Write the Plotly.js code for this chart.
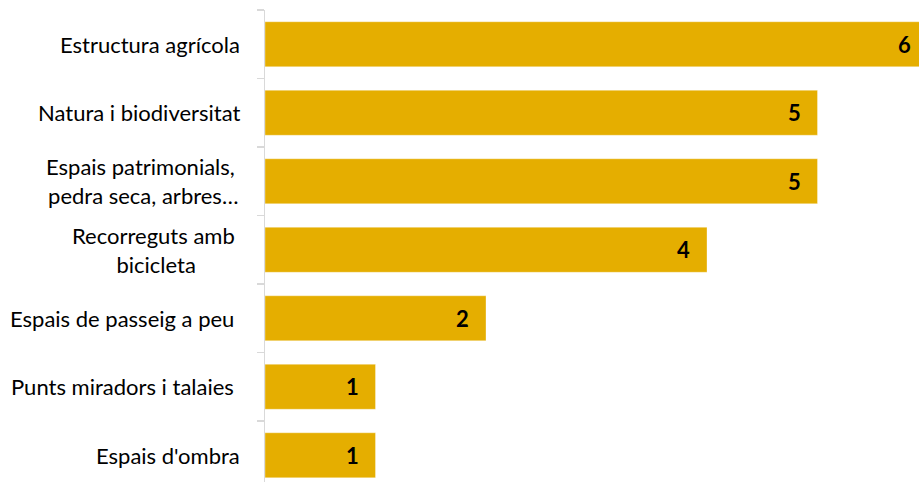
<!DOCTYPE html>
<html>
<head>
<meta charset="utf-8">
<script src="https://cdn.plot.ly/plotly-3.0.1.min.js"></script>
<style>
html, body { margin: 0; padding: 0; overflow: hidden; background: #fff; }
#chart { width: 930px; height: 482px; }
</style>
</head>
<body>
<div id="chart"></div>
<script>
const categories = [
  "Estructura agrícola",
  "Natura i biodiversitat",
  "Espais patrimonials,\u00a0<br>pedra seca, arbres…",
  "Recorreguts amb\u00a0<br>bicicleta",
  "Espais de passeig a peu\u00a0",
  "Punts miradors i talaies\u00a0",
  "Espais d'ombra"
];
const values = [6, 5, 5, 4, 2, 1, 1];
const valueLabels = ["6", "5", "5", "4", "2", "1", "1"];

const barColor = "#E5AE00";
const axisGray = "#D9D9D9";
const fontFamily = "Lato, 'Open Sans', sans-serif";

const trace = {
  type: "bar",
  orientation: "h",
  x: values,
  y: categories,
  marker: { color: barColor, line: { color: "rgba(255,255,255,0.45)", width: 0.75 } },
  hoverinfo: "skip"
};

const annotations = [];
categories.forEach((c, i) => {
  annotations.push({
    xref: "paper", yref: "y", x: 0, y: c,
    xanchor: "right", yanchor: "middle", xshift: -23,
    text: c, showarrow: false, align: "center",
    font: { family: fontFamily, size: 22, color: "#000" }
  });
  annotations.push({
    xref: "x", yref: "y", x: values[i], y: c,
    xanchor: "right", yanchor: "middle", xshift: -15,
    text: "<b>" + valueLabels[i] + "</b>", showarrow: false,
    font: { family: fontFamily, size: 22, color: "#000" }
  });
});

const layout = {
  width: 930, height: 482,
  margin: { l: 265, r: 2, t: 10, b: 0, pad: 0 },
  paper_bgcolor: "#fff", plot_bgcolor: "#fff",
  showlegend: false,
  bargap: 0.343,
  xaxis: {
    range: [0, 6], showgrid: false, zeroline: false,
    showticklabels: false, showline: false, ticks: ""
  },
  yaxis: {
    type: "category",
    range: [6.39, -0.5],
    showgrid: false, zeroline: false,
    showline: true, linecolor: axisGray, linewidth: 1.5,
    ticks: "outside", tickson: "boundaries", ticklen: 7,
    tickcolor: axisGray, tickwidth: 1.5,
    showticklabels: false
  },
  annotations: annotations,
  font: { family: fontFamily, size: 22, color: "#000" }
};

Plotly.newPlot("chart", [trace], layout, { displayModeBar: false, staticPlot: true });
</script>
</body>
</html>
